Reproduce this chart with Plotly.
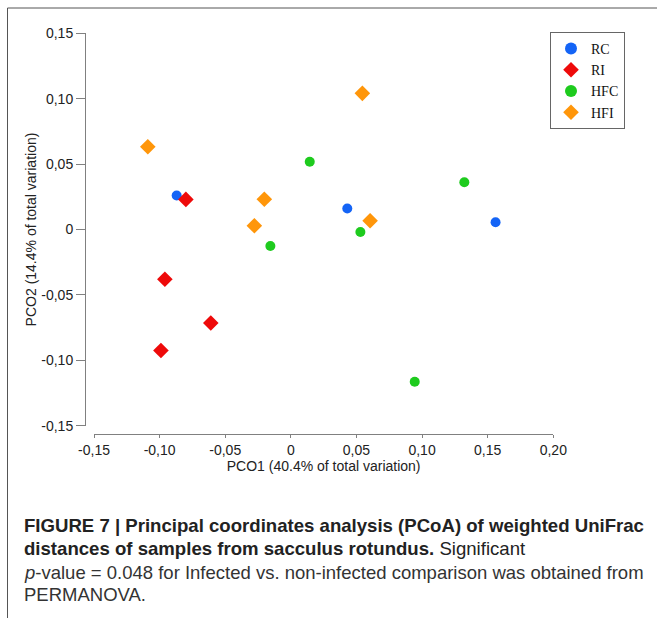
import plotly.graph_objects as go

# ---- data ----
group_names = ["RC", "RI", "HFC", "HFI"]
rc_x = [-0.087, 0.043, 0.156]
rc_y = [0.026, 0.016, 0.0055]
ri_x = [-0.080, -0.096, -0.061, -0.099]
ri_y = [0.023, -0.038, -0.0715, -0.0925]
hfc_x = [-0.0156, 0.0144, 0.1322, 0.053, 0.0944]
hfc_y = [-0.0126, 0.0518, 0.0361, -0.0019, -0.1164]
hfi_x = [-0.109, -0.0202, -0.0278, 0.0545, 0.0604]
hfi_y = [0.0633, 0.0231, 0.0029, 0.1041, 0.0067]

x_tickvals = [-0.15, -0.10, -0.05, 0, 0.05, 0.10, 0.15, 0.20]
x_ticktext = ["-0,15", "-0,10", "-0,05", "0", "0,05", "0,10", "0,15", "0,20"]
y_tickvals = [-0.15, -0.10, -0.05, 0, 0.05, 0.10, 0.15]
y_ticktext = ["-0,15", "-0,10", "-0,05", "0", "0,05", "0,10", "0,15"]

x_title = "PCO1 (40.4% of total variation)"
y_title = "PCO2 (14.4% of total variation)"

caption_lines = [
    "<b>FIGURE 7 | Principal coordinates analysis (PCoA) of weighted UniFrac</b>",
    "<b>distances of samples from sacculus rotundus.</b> Significant",
    "<i>p</i>-value = 0.048 for Infected vs. non-infected comparison was obtained from",
    "PERMANOVA.",
]

W, H = 657, 618
AXIS_COL = "#808080"
FONT = "Liberation Sans, Arial, sans-serif"

fig = go.Figure()
series = [
    ("RC", rc_x, rc_y, "circle", "#1464f6", 10),
    ("RI", ri_x, ri_y, "diamond", "#ee0a0a", 12),
    ("HFC", hfc_x, hfc_y, "circle", "#1ecb1e", 10),
    ("HFI", hfi_x, hfi_y, "diamond", "#ff960a", 12),
]
for name, xs, ys, sym, col, sz in series:
    fig.add_trace(go.Scatter(
        x=xs, y=ys, mode="markers", name=name,
        marker=dict(symbol=sym, color=col, size=sz, line=dict(width=0)),
    ))

x_dom = [94 / W, 553.3 / W]
y_dom = [1 - 425.7 / H, 1 - 33.3 / H]
x_pos = 1 - 434 / H
y_pos = 85 / W

fig.update_layout(
    width=W, height=H,
    margin=dict(l=0, r=0, t=0, b=0, pad=0, autoexpand=False),
    paper_bgcolor="white", plot_bgcolor="white",
    font=dict(family=FONT, color="#222", size=14),
    xaxis=dict(
        domain=x_dom, range=[-0.15, 0.20], anchor="free", position=x_pos,
        automargin=False,
        showline=True, linecolor=AXIS_COL, linewidth=1,
        ticks="outside", ticklen=3, tickcolor=AXIS_COL, tickwidth=1,
        tickvals=x_tickvals, ticktext=x_ticktext,
        tickfont=dict(size=14, color="#222"),
        showgrid=False, zeroline=False,
        title=dict(text=x_title, font=dict(size=14, color="#222"), standoff=1),
    ),
    xaxis2=dict(
        domain=x_dom, range=[-0.15, 0.20], anchor="free", position=x_pos,
        overlaying="x", showline=False, automargin=False,
        ticks="inside", ticklen=7, tickcolor=AXIS_COL, tickwidth=1,
        tickvals=x_tickvals, showticklabels=False,
        showgrid=False, zeroline=False,
    ),
    yaxis=dict(
        domain=y_dom, range=[-0.15, 0.15], anchor="free", position=y_pos,
        automargin=False,
        showline=True, linecolor=AXIS_COL, linewidth=1,
        ticks="outside", ticklen=9, tickcolor=AXIS_COL, tickwidth=1,
        tickvals=y_tickvals, ticktext=y_ticktext,
        tickfont=dict(size=14, color="#222"),
        showgrid=False, zeroline=False,
        title=dict(text=y_title, font=dict(size=14, color="#222"), standoff=0),
    ),
    legend=dict(
        x=550 / W, y=1 - 32 / H, xanchor="left", yanchor="top",
        bgcolor="white", bordercolor="#666", borderwidth=1,
        font=dict(family="Liberation Serif, Times New Roman, serif", size=14, color="#111"),
        itemsizing="constant", tracegroupgap=0,
    ),
    showlegend=True,
)

# outer figure frame (left and top rules)
fig.add_shape(type="line", xref="paper", yref="paper",
              x0=7.5 / W, x1=7.5 / W, y0=0, y1=1 - 8 / H,
              line=dict(color="#555", width=1))
fig.add_shape(type="line", xref="paper", yref="paper",
              x0=7.5 / W, x1=1, y0=1 - 8 / H, y1=1 - 8 / H,
              line=dict(color="#555", width=1))

# caption
cap_y = [525.5, 548.5, 572, 594.5]
cap_col = ["#222", "#222", "#333", "#333"]
cap_size = [18.6, 18.6, 18.5, 18.5]
for txt, yy, cc, fs in zip(caption_lines, cap_y, cap_col, cap_size):
    fig.add_annotation(text=txt, xref="paper", yref="paper",
                       x=22 / W, y=1 - yy / H, xanchor="left", yanchor="middle",
                       showarrow=False, font=dict(family=FONT, size=fs, color=cc))

fig.write_html(
    "out.html",
    config={"displayModeBar": False},
    post_script="document.body.style.margin='0';document.body.style.overflow='hidden';",
)
